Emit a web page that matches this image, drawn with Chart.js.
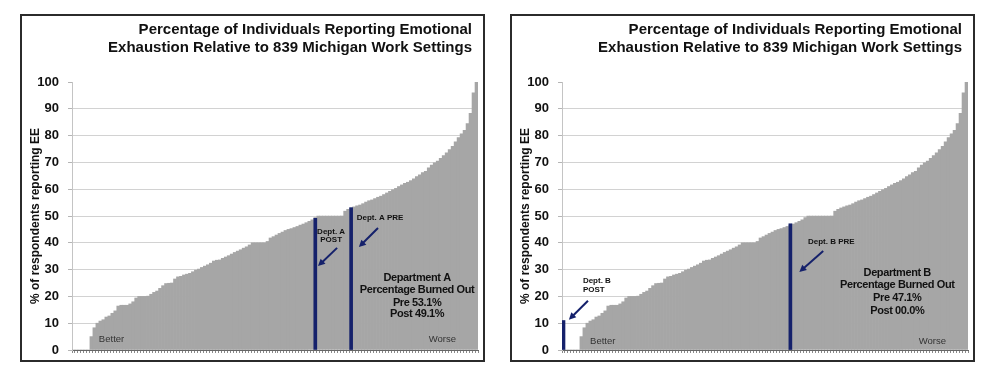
<!DOCTYPE html>
<html>
<head>
<meta charset="utf-8">
<script src="https://cdn.jsdelivr.net/npm/chart.js@4.4.1/dist/chart.umd.min.js"></script>
<style>
  body { margin: 0; background: #fff; }
  .panel { position: absolute; top: 14px; width: 465px; height: 348px; border: 2px solid #2b2b2b; box-sizing: border-box; }
  #panelA { left: 20px; }
  #panelB { left: 510px; }
</style>
</head>
<body>
<div class="panel" id="panelA"><canvas id="chartA"></canvas></div>
<div class="panel" id="panelB"><canvas id="chartB"></canvas></div>
<script>
// % reporting emotional exhaustion, work settings ranked low -> high
const eeRanked = [
  0, 0, 0, 0, 0, 0, 5, 8.3, 10, 10.8,
  11.3, 12.3, 12.7, 13.7, 14.6, 16.4, 16.7, 16.7, 16.7, 17.2,
  18, 19.4, 20, 20, 20, 20.1, 20.8, 21.5, 22, 23,
  24, 24.8, 24.9, 25, 26.5, 27.3, 27.5, 28, 28.3, 28.6,
  29.2, 29.8, 30.2, 30.8, 31.3, 31.8, 32.4, 33.2, 33.5, 33.6,
  34.2, 34.7, 35.2, 35.8, 36.4, 36.9, 37.4, 38, 38.5, 39.2,
  40, 40, 40, 40, 40, 40.5, 41.8, 42.3, 42.9, 43.5,
  44, 44.6, 45, 45.3, 45.7, 46.1, 46.6, 47, 47.5, 48,
  48.6, 49.4, 50, 50, 50, 50, 50, 50, 50, 50,
  50, 51.8, 52.5, 53, 53.4, 53.8, 54.1, 54.6, 55.2, 55.7,
  56, 56.5, 57, 57.4, 58, 58.6, 59.2, 59.8, 60.3, 61,
  61.6, 62.2, 62.6, 63.2, 63.9, 64.7, 65.4, 66.2, 66.7, 68,
  69, 69.8, 70.5, 71.5, 72.5, 73.6, 74.8, 76, 77.7, 79.3,
  80.7, 82, 84.5, 88.3, 96, 100
];
const rankLabels = eeRanked.map((v, i) => String(i + 1));

// department bars: rank position and value  [POST, PRE]
const deptARank = [81, 93];
const deptAValues = [49.1, 53.1];
const deptBRank = [0, 76];
const deptBValues = [11, 47.1];

const yTicks = [0, 10, 20, 30, 40, 50, 60, 70, 80, 90, 100];

const GREY = '#a6a6a6';
const NAVY = '#15216b';
const FONT = "'Liberation Sans', Arial, sans-serif";

function highlightData(ranks, values) {
  const arr = eeRanked.map(() => null);
  ranks.forEach((r, i) => { arr[r] = values[i]; });
  return arr;
}

function notesPlugin(notes) {
  return {
    id: 'notes',
    afterLayout(chart) {
      // title sits a little inside the plot's right edge
      if (chart.titleBlock) chart.titleBlock.right -= 6;
    },
    afterDatasetsDraw(chart) {
      const { ctx, scales: { x, y } } = chart;
      ctx.save();
      notes.texts.forEach(t => {
        ctx.font = t.font;
        ctx.fillStyle = t.color || '#111';
        ctx.textAlign = t.align || 'center';
        ctx.textBaseline = 'middle';
        ctx.letterSpacing = t.spacing || '0px';
        ctx.fillText(t.text, x.getPixelForValue(t.at[0]), y.getPixelForValue(t.at[1]));
      });
      ctx.letterSpacing = '0px';
      notes.arrows.forEach(a => {
        const x1 = x.getPixelForValue(a.from[0]), y1 = y.getPixelForValue(a.from[1]);
        const x2 = x.getPixelForValue(a.to[0]), y2 = y.getPixelForValue(a.to[1]);
        const ang = Math.atan2(y2 - y1, x2 - x1);
        const c = Math.cos(ang), s = Math.sin(ang);
        ctx.strokeStyle = NAVY;
        ctx.fillStyle = NAVY;
        ctx.lineWidth = 2;
        ctx.beginPath();
        ctx.moveTo(x1, y1);
        ctx.lineTo(x2 - 5 * c, y2 - 5 * s);
        ctx.stroke();
        ctx.beginPath();
        ctx.moveTo(x2, y2);
        ctx.lineTo(x2 - 7 * c + 3.5 * s, y2 - 7 * s - 3.5 * c);
        ctx.lineTo(x2 - 7 * c - 3.5 * s, y2 - 7 * s + 3.5 * c);
        ctx.closePath();
        ctx.fill();
      });
      ctx.restore();
    }
  };
}

const small = 'bold 8px ' + FONT;
const mid = 'bold 11px ' + FONT;
const plain = '9.5px ' + FONT;
const tight = '-0.4px';

const notesA = {
  texts: [
    { text: 'Dept. A', at: [86.3, 44.1], font: small },
    { text: 'POST', at: [86.3, 41.0], font: small },
    { text: 'Dept. A PRE', at: [102.7, 49.3], font: small },
    { text: 'Department A', at: [115.1, 26.9], font: mid, spacing: tight },
    { text: 'Percentage Burned Out', at: [115.1, 22.4], font: mid, spacing: tight },
    { text: 'Pre 53.1%', at: [115.1, 17.6], font: mid, spacing: tight },
    { text: 'Post 49.1%', at: [115.1, 13.4], font: mid, spacing: tight },
    { text: 'Better', at: [8.5, 4.1], font: plain, align: 'left', color: '#333' },
    { text: 'Worse', at: [128.1, 4.1], font: plain, align: 'right', color: '#333' }
  ],
  arrows: [
    { from: [88.3, 38.1], to: [81.9, 31.3] },
    { from: [102.0, 45.5], to: [95.6, 38.4] }
  ]
};

const notesB = {
  texts: [
    { text: 'Dept. B', at: [6.5, 25.9], font: small, align: 'left' },
    { text: 'POST', at: [6.5, 22.5], font: small, align: 'left' },
    { text: 'Dept. B PRE', at: [89.7, 40.4], font: small },
    { text: 'Department B', at: [111.8, 28.7], font: mid, spacing: tight },
    { text: 'Percentage Burned Out', at: [111.8, 24.3], font: mid, spacing: tight },
    { text: 'Pre 47.1%', at: [111.8, 19.4], font: mid, spacing: tight },
    { text: 'Post 00.0%', at: [111.8, 14.7], font: mid, spacing: tight },
    { text: 'Better', at: [8.9, 3.1], font: plain, align: 'left', color: '#333' },
    { text: 'Worse', at: [128.1, 3.1], font: plain, align: 'right', color: '#333' }
  ],
  arrows: [
    { from: [8.2, 18.4], to: [1.8, 11.3] },
    { from: [87.0, 36.9], to: [79.0, 29.1] }
  ]
};

function drawPanel(canvasId, ranks, values, notes) {
  const ctx = document.getElementById(canvasId).getContext('2d');
  new Chart(ctx, {
    type: 'bar',
    data: {
      labels: rankLabels,
      datasets: [
        {
          data: highlightData(ranks, values),
          backgroundColor: NAVY,
          grouped: false,
          barThickness: 3,
          order: 0
        },
        {
          data: eeRanked,
          backgroundColor: GREY,
          grouped: false,
          categoryPercentage: 1,
          barPercentage: 1,
          order: 1
        }
      ]
    },
    options: {
      responsive: true,
      maintainAspectRatio: false,
      animation: false,
      layout: { padding: { left: 0, right: 5, top: 0, bottom: 0 } },
      plugins: {
        legend: { display: false },
        tooltip: { enabled: false },
        title: {
          display: true,
          text: ['Percentage of Individuals Reporting Emotional',
                 'Exhaustion Relative to 839 Michigan Work Settings'],
          align: 'end',
          color: '#111',
          font: { family: FONT, size: 15, weight: 'bold', lineHeight: 1.2 },
          padding: { top: 5, bottom: 25 }
        }
      },
      scales: {
        x: {
          ticks: { display: false },
          grid: { drawOnChartArea: false, tickLength: 3, color: '#8a8a8a' },
          border: { color: '#666' },
          afterFit(scale) { scale.height = 10; }
        },
        y: {
          min: 0,
          max: 100,
          afterBuildTicks(scale) { scale.ticks = yTicks.map(v => ({ value: v })); },
          ticks: {
            color: '#111',
            padding: 9,
            font: { family: FONT, size: 13, weight: 'bold' }
          },
          grid: {
            color: c => (c.tick && c.tick.value === 100 ? 'rgba(0,0,0,0)' : '#d2d2d2'),
            tickColor: '#b5b5b5',
            tickLength: 4
          },
          border: { color: '#c4c4c4' },
          title: {
            display: true,
            text: '% of respondents reporting EE',
            color: '#111',
            font: { family: FONT, size: 12, weight: 'bold' },
            padding: { top: 6, bottom: 0 }
          },
          afterFit(scale) {
            scale.width = 50;
            scale.paddingTop = 3;
            scale.paddingBottom = 3;
          }
        }
      }
    },
    plugins: [notesPlugin(notes)]
  });
}

drawPanel('chartA', deptARank, deptAValues, notesA);
drawPanel('chartB', deptBRank, deptBValues, notesB);
</script>
</body>
</html>
